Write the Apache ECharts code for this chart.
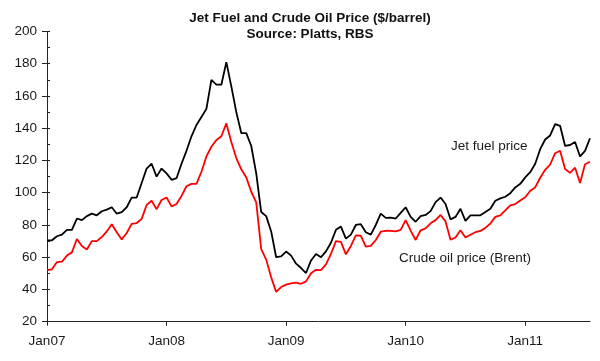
<!DOCTYPE html>
<html>
<head>
<meta charset="utf-8">
<script src="https://cdn.jsdelivr.net/npm/echarts@6/dist/echarts.min.js"></script>
<style>
html,body{margin:0;padding:0;background:#fff;}
#chart{width:600px;height:361px;}
</style>
</head>
<body>
<div id="chart"></div>
<script>
// Semi-monthly observation dates
const dates = [
'2007-01-01','2007-01-15','2007-02-01','2007-02-15','2007-03-01','2007-03-15','2007-04-01','2007-04-15','2007-05-01','2007-05-15','2007-06-01','2007-06-15',
'2007-07-01','2007-07-15','2007-08-01','2007-08-15','2007-09-01','2007-09-15','2007-10-01','2007-10-15','2007-11-01','2007-11-15','2007-12-01','2007-12-15',
'2008-01-01','2008-01-15','2008-02-01','2008-02-15','2008-03-01','2008-03-15','2008-04-01','2008-04-15','2008-05-01','2008-05-15','2008-06-01','2008-06-15',
'2008-07-01','2008-07-15','2008-08-01','2008-08-15','2008-09-01','2008-09-15','2008-10-01','2008-10-15','2008-11-01','2008-11-15','2008-12-01','2008-12-15',
'2009-01-01','2009-01-15','2009-02-01','2009-02-15','2009-03-01','2009-03-15','2009-04-01','2009-04-15','2009-05-01','2009-05-15','2009-06-01','2009-06-15',
'2009-07-01','2009-07-15','2009-08-01','2009-08-15','2009-09-01','2009-09-15','2009-10-01','2009-10-15','2009-11-01','2009-11-15','2009-12-01','2009-12-15',
'2010-01-01','2010-01-15','2010-02-01','2010-02-15','2010-03-01','2010-03-15','2010-04-01','2010-04-15','2010-05-01','2010-05-15','2010-06-01','2010-06-15',
'2010-07-01','2010-07-15','2010-08-01','2010-08-15','2010-09-01','2010-09-15','2010-10-01','2010-10-15','2010-11-01','2010-11-15','2010-12-01','2010-12-15',
'2011-01-01','2011-01-15','2011-02-01','2011-02-15','2011-03-01','2011-03-15','2011-04-01','2011-04-15','2011-05-01','2011-05-15','2011-06-01','2011-06-15',
'2011-07-01','2011-07-15'
];

// Jet fuel price ($/barrel)
const jetFuel = [
70.5,70.5,73,74,77,77,84,83,85.5,87,86,88.5,
89.5,91,87,88,91,97,97,106,115,118,110,115,
112,108,109,118,126,135,142,147,152,170,167,167,
181,166,150,137,137,129,112,88,85.5,76,60,60.5,
63.5,61,56,53.3,50.2,58,62,60,63.6,69,77,79,
71.5,74,80,80.5,75.5,74,80,87,84.4,84.5,84,87.5,
91,85,82,85.5,86.2,88.6,94.2,97,93,83.5,85,90,
82.5,86,86,86,88,90,95,96.5,97.5,99.7,103.3,105.5,
109.5,112.7,118,127,133,135.5,142.5,141.5,129,129.6,131.5,122.5,
126,133.8
];

// Crude oil price, Brent ($/barrel)
const crudeOil = [
52,52.5,57,57.2,61,63,71.3,67,64.8,70,70,72.5,
76,80.5,75.5,71,75,80.7,81.2,83.8,92.4,95,89.8,95.5,
97,91.5,93,98,104,105.5,105.5,113,122.5,128.5,132.7,135,
143,131.5,121.5,114.5,109.5,100.6,94,65,58.5,47.5,38.5,41.5,
43,43.8,44.3,43.5,45,50,52.2,52,55.5,62,70,69.5,
61.8,67,73.5,73.3,66.6,67,70.7,75.8,76.4,76.3,76,77,
83,76.5,70.7,76.7,77.9,81,83,86.2,82.2,70.8,72.2,76.7,
72.2,73.9,75.5,76.3,78.2,80.9,85,86,89,92.2,93,95.2,
97.2,101.2,103.3,109.3,114.2,117.5,124.5,126,114.7,112.3,115.5,106,
117.7,119.2
];

const titleLines = ['Jet Fuel and Crude Oil Price ($/barrel)', 'Source: Platts, RBS'];
const seriesNames = ['Jet fuel price', 'Crude oil price (Brent)'];

const FONT = 'Liberation Sans, Arial, sans-serif';
const chart = echarts.init(document.getElementById('chart'), null, {renderer:'canvas'});
chart.setOption({
  animation: false,
  backgroundColor: '#ffffff',
  grid: {left: 47, right: 10, top: 31.5, bottom: 39.3, containLabel: false},
  xAxis: {
    type: 'category',
    data: dates,
    boundaryGap: false,
    axisLine: {show: true, lineStyle: {color: '#222', width: 1}},
    axisTick: {show: true, interval: 23, length: 4, lineStyle: {color: '#222'}},
    axisLabel: {
      interval: 23, margin: 13, fontFamily: FONT, fontSize: 13.5, color: '#1a1a1a',
      formatter: function (v) { return 'Jan' + v.slice(2, 4); }
    },
    splitLine: {show: false}
  },
  yAxis: [{
    type: 'value', min: 20, max: 200, interval: 20,
    axisLine: {show: true, lineStyle: {color: '#222', width: 1}},
    axisTick: {show: true, length: 5, lineStyle: {color: '#222'}},
    axisLabel: {margin: 10, fontFamily: FONT, fontSize: 13.5, color: '#1a1a1a'},
    splitLine: {show: false}
  }, {
    type: 'value', min: 20, max: 200, interval: 10, position: 'left',
    axisLine: {show: false},
    axisTick: {show: true, inside: true, length: 3, lineStyle: {color: '#222'}},
    axisLabel: {show: false},
    splitLine: {show: false}
  }],
  series: [{
    name: seriesNames[0], type: 'line', data: jetFuel, yAxisIndex: 0,
    showSymbol: false, symbol: 'none',
    lineStyle: {color: '#000000', width: 1.8}
  }, {
    name: seriesNames[1], type: 'line', data: crudeOil, yAxisIndex: 0,
    showSymbol: false, symbol: 'none',
    lineStyle: {color: '#ff0000', width: 1.8}
  }],
  graphic: [{
    type: 'text', x: 310, y: 18.3,
    style: {text: titleLines[0], fontFamily: FONT, fontSize: 13.5, fontWeight: 'bold', fill: '#111', textAlign: 'center', textVerticalAlign: 'middle'}
  }, {
    type: 'text', x: 310, y: 34.3,
    style: {text: titleLines[1], fontFamily: FONT, fontSize: 13.5, fontWeight: 'bold', fill: '#111', textAlign: 'center', textVerticalAlign: 'middle'}
  }, {
    type: 'text', left: 451, top: 139,
    style: {text: seriesNames[0], fontFamily: FONT, fontSize: 13.5, fill: '#1a1a1a'}
  }, {
    type: 'text', left: 399, top: 251,
    style: {text: seriesNames[1], fontFamily: FONT, fontSize: 13.5, fill: '#1a1a1a'}
  }]
});
</script>
</body>
</html>
